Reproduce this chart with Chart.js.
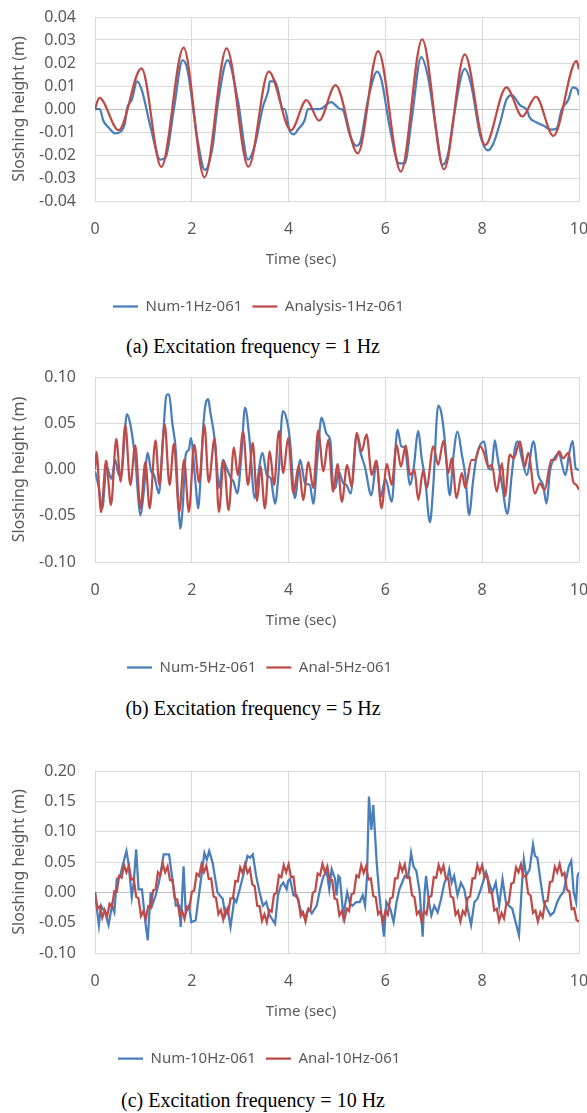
<!DOCTYPE html>
<html>
<head>
<meta charset="utf-8">
<script src="https://cdn.jsdelivr.net/npm/chart.js@4.4.0/dist/chart.umd.min.js"></script>
<style>
  body { margin: 0; background: #fff; width: 587px; height: 1113px; position: relative; overflow: hidden; }
  canvas { position: absolute; left: 0; }
  .cap { position: absolute; left: 0; width: 506px; height: 24px; line-height: 24px; text-align: center;
         font-family: 'Liberation Serif', 'Times New Roman', serif; font-size: 20px; color: #000; }
</style>
</head>
<body>
<canvas id="c1" width="587" height="324" style="top:0px"></canvas>
<div class="cap" style="top:334px">(a) Excitation frequency = 1 Hz</div>
<canvas id="c2" width="587" height="325" style="top:360px"></canvas>
<div class="cap" style="top:696px">(b) Excitation frequency = 5 Hz</div>
<canvas id="c3" width="587" height="322" style="top:754px"></canvas>
<div class="cap" style="top:1088px">(c) Excitation frequency = 10 Hz</div>

<script>
// ---- data (time in s, height in m) ----

// (a) 1 Hz
const c1NumT = [0, 0.1, 0.17, 0.28, 0.42, 0.52, 0.62, 0.66, 0.76, 0.87,
  0.97, 1.15, 1.35, 1.46, 1.63, 1.81, 1.91, 2.12, 2.27, 2.43,
  2.53, 2.74, 2.95, 3.16, 3.30, 3.47, 3.58, 3.61, 3.72, 3.89,
  3.92, 4.03, 4.12, 4.19, 4.33, 4.40, 4.64, 4.88, 5.06, 5.12,
  5.26, 5.40, 5.47, 5.64, 5.83, 5.92, 6.09, 6.28, 6.40, 6.54,
  6.74, 6.88, 7.06, 7.18, 7.30, 7.40, 7.64, 7.78, 7.95, 8.12,
  8.23, 8.37, 8.50, 8.61, 8.78, 8.92, 8.99, 9.09, 9.26, 9.43,
  9.54, 9.64, 9.78, 9.87, 9.97, 10];
const c1NumV = [0, 0, -0.005, -0.008, -0.0106, -0.010, -0.006, 0, 0.004, 0.012,
  0.008, -0.008, -0.022, -0.021, 0, 0.0213, 0.017, -0.0135, -0.0265, -0.0164,
  0.001, 0.0213, 0.004, -0.022, -0.016, 0.001, 0.008, 0.012, 0.012, 0,
  0, -0.0099, -0.011, -0.009, -0.005, 0, 0, 0.003, 0, -0.0004,
  -0.011, -0.016, -0.015, 0.004, 0.0163, 0.0125, -0.008, -0.0236, -0.0236, -0.005,
  0.0226, 0.014, -0.0106, -0.0243, -0.019, -0.005, 0.0174, 0.0097, -0.0106, -0.018,
  -0.015, -0.006, 0.004, 0.006, 0.0017, -0.0004, -0.004, -0.0055, -0.0072, -0.009,
  -0.0084, -0.0004, 0.004, 0.0094, 0.0083, 0.006];
const c1AnalT = [0, 0.09, 0.49, 0.96, 1.37, 1.83, 2.26, 2.72, 3.17, 3.59,
  4.05, 4.37, 4.63, 4.97, 5.43, 5.85, 6.32, 6.76, 7.21, 7.64,
  8.06, 8.50, 8.83, 9.11, 9.47, 9.95, 10];
const c1AnalV = [0, 0.0048, -0.0092, 0.0177, -0.0252, 0.0267, -0.0297, 0.0264, -0.0251, 0.0163,
  -0.0093, 0.0039, -0.0051, 0.0104, -0.0193, 0.0252, -0.0272, 0.0303, -0.0262, 0.0238,
  -0.0157, 0.0094, -0.0033, 0.0054, -0.0117, 0.0209, 0.0172];

// (b) 5 Hz
const c2NumT = [0, 0.07, 0.15, 0.24, 0.30, 0.34, 0.42, 0.49, 0.55, 0.66,
  0.73, 0.83, 0.94, 1.00, 1.09, 1.16, 1.22, 1.32, 1.40, 1.48,
  1.53, 1.60, 1.67, 1.72, 1.76, 1.81, 1.875, 1.94, 1.98, 2.08,
  2.13, 2.18, 2.24, 2.29, 2.34, 2.38, 2.47, 2.57, 2.64, 2.70,
  2.81, 2.86, 2.94, 3.02, 3.10, 3.19, 3.30, 3.36, 3.46, 3.55,
  3.63, 3.72, 3.79, 3.88, 3.97, 4.03, 4.13, 4.24, 4.34, 4.44,
  4.51, 4.60, 4.68, 4.79, 4.86, 4.92, 4.97, 5.03, 5.13, 5.20,
  5.28, 5.41, 5.48, 5.58, 5.71, 5.82, 5.90, 6.00, 6.13, 6.25,
  6.33, 6.40, 6.51, 6.58, 6.68, 6.75, 6.82, 6.92, 6.99, 7.09,
  7.16, 7.23, 7.33, 7.40, 7.49, 7.58, 7.65, 7.73, 7.81, 7.89,
  8.04, 8.13, 8.19, 8.26, 8.31, 8.41, 8.52, 8.61, 8.68, 8.73,
  8.82, 8.92, 9.06, 9.16, 9.26, 9.33, 9.40, 9.51, 9.58, 9.72,
  9.79, 9.87, 9.93, 10];
const c2NumV = [-0.002, -0.017, -0.042, 0.003, -0.006, -0.01, 0.0105, -0.006, -0.003, 0.06,
  0.049, 0.012, -0.0495, -0.028, 0.018, -0.002, -0.006, -0.026, 0.03, 0.081,
  0.081, 0.049, 0.02, -0.035, -0.064, -0.042, 0.016, 0.0215, 0.034, -0.017,
  -0.042, -0.01, 0.049, 0.072, 0.076, 0.063, 0.034, -0.02, 0.0105, 0.004,
  -0.0095, -0.013, -0.026, 0.012, 0.067, 0.034, -0.031, -0.01, 0.018, -0.006,
  -0.0095, -0.037, -0.006, 0.063, 0.052, 0.0305, -0.031, 0.0105, -0.015, -0.0167,
  -0.037, 0.015, 0.056, 0.038, 0.032, -0.017, -0.02, -0.002, -0.015, -0.017,
  -0.026, 0.038, 0.0196, 0.002, -0.028, 0.0087, -0.03, -0.01, -0.035, 0.043,
  0.025, 0.024, -0.0167, 0.0, 0.0415, 0.012, -0.0095, -0.057, -0.017, 0.069,
  0.06, 0.0305, -0.028, 0.012, 0.041, 0.016, -0.006, -0.049, -0.013, 0.016,
  0.0305, 0.0015, 0.0, 0.0316, 0.016, -0.0167, -0.048, -0.006, 0.024, 0.0305,
  0.012, -0.006, 0.0305, -0.006, -0.017, -0.037, -0.002, 0.014, 0.017, -0.006,
  0.015, 0.031, 0.0015, -0.0004];
const c2AnalT = [0, 0.03, 0.125, 0.23, 0.33, 0.44, 0.53, 0.625, 0.73, 0.83,
  0.94, 1.04, 1.13, 1.25, 1.33, 1.44, 1.54, 1.63, 1.74, 1.84,
  1.94, 2.05, 2.15, 2.26, 2.35, 2.47, 2.56, 2.66, 2.76, 2.87,
  2.95, 3.06, 3.16, 3.26, 3.35, 3.42, 3.51, 3.61, 3.70, 3.80,
  3.89, 3.99, 4.10, 4.21, 4.30, 4.41, 4.51, 4.61, 4.72, 4.82,
  4.92, 5.01, 5.10, 5.21, 5.30, 5.41, 5.51, 5.61, 5.72, 5.81,
  5.92, 6.03, 6.13, 6.23, 6.32, 6.42, 6.51, 6.60, 6.68, 6.78,
  6.85, 6.99, 7.09, 7.20, 7.30, 7.37, 7.47, 7.58, 7.65, 7.78,
  7.85, 7.96, 8.03, 8.13, 8.20, 8.30, 8.41, 8.47, 8.57, 8.65,
  8.78, 8.88, 8.95, 9.09, 9.19, 9.29, 9.43, 9.50, 9.59, 9.67,
  9.78, 9.88, 9.95, 10];
const c2AnalV = [0, 0.019, -0.046, 0.0095, -0.0385, 0.033, -0.013, 0.048, -0.0167, 0.026,
  -0.042, 0.008, -0.042, 0.0316, -0.0167, 0.0487, -0.0167, 0.0276, -0.046, 0.0105,
  -0.046, 0.027, -0.0138, 0.048, -0.0138, 0.0335, -0.046, 0.0095, -0.044, 0.024,
  -0.006, 0.041, -0.0167, 0.0287, -0.034, 0.003, -0.042, 0.0196, -0.0167, 0.0415,
  -0.004, 0.034, -0.026, 0.0044, -0.033, 0.008, -0.020, 0.042, -0.002, 0.032,
  -0.024, 0.006, -0.035, 0.005, -0.0185, 0.0396, 0.0196, 0.038, -0.006, 0.0095,
  -0.042, 0.006, -0.0167, 0.027, 0.003, 0.026, -0.006, -0.0004, -0.033, -0.001,
  -0.020, 0.025, 0.005, 0.031, -0.004, 0.012, -0.031, -0.004, -0.020, 0.0105,
  0.0105, 0.025, 0.019, 0.003, 0.005, -0.024, 0.007, -0.029, 0.016, 0.012,
  0.0305, 0.003, 0.018, -0.026, -0.015, -0.022, 0.0105, 0.0105, 0.0196, 0.012,
  0.018, -0.013, -0.017, -0.022];

// (c) 10 Hz
const c3NumT = [0, 0.08, 0.125, 0.21, 0.28, 0.35, 0.40, 0.45, 0.52, 0.56,
  0.65, 0.69, 0.76, 0.80, 0.85, 0.90, 0.97, 1.04, 1.09, 1.15,
  1.18, 1.25, 1.32, 1.42, 1.53, 1.60, 1.67, 1.74, 1.77, 1.83,
  1.875, 1.94, 1.99, 2.08, 2.19, 2.26, 2.31, 2.36, 2.43, 2.53,
  2.64, 2.69, 2.74, 2.80, 2.88, 2.92, 2.99, 3.06, 3.15, 3.20,
  3.26, 3.33, 3.40, 3.47, 3.54, 3.61, 3.72, 3.78, 3.84, 3.89,
  3.96, 3.99, 4.03, 4.10, 4.17, 4.24, 4.34, 4.41, 4.48, 4.58,
  4.65, 4.72, 4.79, 4.84, 4.89, 4.96, 4.99, 5.03, 5.06, 5.13,
  5.21, 5.27, 5.32, 5.40, 5.47, 5.53, 5.58, 5.62, 5.66, 5.71,
  5.75, 5.78, 5.82, 5.87, 5.92, 5.97, 6.02, 6.10, 6.17, 6.23,
  6.29, 6.40, 6.47, 6.53, 6.58, 6.64, 6.71, 6.77, 6.81, 6.84,
  6.90, 6.95, 7.01, 7.08, 7.15, 7.22, 7.29, 7.32, 7.37, 7.42,
  7.49, 7.56, 7.63, 7.70, 7.77, 7.84, 7.90, 7.97, 8.08, 8.14,
  8.21, 8.28, 8.35, 8.42, 8.49, 8.55, 8.62, 8.69, 8.76, 8.82,
  8.86, 8.91, 8.98, 9.05, 9.09, 9.14, 9.21, 9.27, 9.34, 9.41,
  9.48, 9.55, 9.62, 9.68, 9.72, 9.79, 9.84, 9.89, 9.94, 9.97,
  10];
const c3NumV = [0, -0.054, -0.022, -0.033, -0.054, -0.022, -0.033, 0.022, 0.027, 0.041,
  0.068, 0.049, -0.008, 0.016, 0.071, 0.005, 0.005, -0.049, -0.079, 0,
  -0.022, -0.006, 0.016, 0.0625, 0.0625, 0.022, -0.022, -0.022, -0.057, 0.043,
  -0.033, -0.022, -0.049, -0.046, 0.022, 0.065, 0.054, 0.068, 0.049, 0,
  -0.011, -0.038, -0.027, -0.057, -0.011, -0.016, 0.005, 0.027, 0.06, 0.057,
  0.0625, 0.027, 0, -0.022, -0.016, -0.038, -0.052, -0.005, 0.011, 0.016,
  0.005, 0.019, 0.022, -0.005, -0.005, -0.027, -0.043, -0.027, -0.035, -0.022,
  0.005, 0.027, 0.033, 0.005, 0.038, 0.022, -0.005, 0.027, 0.024, -0.038,
  0, -0.019, -0.022, -0.016, -0.016, -0.005, -0.022, 0.027, 0.158, 0.103,
  0.144, 0.103, 0.049, 0, -0.038, -0.073, -0.016, -0.027, -0.049, -0.016,
  0.005, 0.027, 0.024, 0.065, 0.043, 0.035, 0, -0.073, 0, 0.027,
  -0.016, -0.038, -0.022, -0.033, -0.011, 0.016, 0.027, 0.038, 0.016, 0.027,
  -0.005, 0.016, 0.005, -0.027, -0.054, -0.016, -0.011, 0.005, 0.033, 0.016,
  0, 0.016, -0.022, 0.022, -0.016, -0.022, -0.027, -0.049, -0.071, 0.011,
  0.054, 0.027, 0.038, 0.079, 0.06, 0.057, 0.016, -0.016, -0.027, -0.038,
  -0.033, -0.016, -0.005, 0, 0.016, 0.043, 0.052, 0, -0.016, 0.027,
  0.033];
// analytical 10 Hz trace, one value every 0.05 s from 0 to 10 s
const c3AnalStep = 0.05;
const c3AnalV = [
  0, -0.027, -0.023, -0.042, -0.029, -0.040, -0.019, -0.024, 0.002, 0.001,
  0.027, 0.024, 0.045, 0.033, 0.044, 0.021, 0.023, -0.007, -0.010, -0.039,
  -0.031, -0.044, -0.023, -0.025, 0.003, 0.005, 0.033, 0.028, 0.047, 0.033,
  0.043, 0.020, 0.020, -0.010, -0.012, -0.038, -0.031, -0.044, -0.024, -0.027,
  0.001, 0.003, 0.031, 0.027, 0.046, 0.033, 0.044, 0.022, 0.023, -0.007,
  -0.009, -0.036, -0.029, -0.045, -0.028, -0.035, -0.010, -0.010, 0.019, 0.018,
  0.041, 0.032, 0.047, 0.032, 0.039, 0.013, 0.010, -0.022, -0.023, -0.047,
  -0.036, -0.049, -0.029, -0.032, -0.003, -0.001, 0.028, 0.025, 0.045, 0.033,
  0.046, 0.025, 0.026, -0.007, -0.011, -0.039, -0.033, -0.048, -0.028, -0.030,
  -0.001, 0.002, 0.031, 0.028, 0.047, 0.033, 0.043, 0.020, 0.020, -0.010,
  -0.012, -0.038, -0.031, -0.046, -0.027, -0.031, -0.003, -0.001, 0.028, 0.025,
  0.045, 0.032, 0.043, 0.021, 0.023, -0.006, -0.008, -0.036, -0.031, -0.048,
  -0.031, -0.037, -0.010, -0.008, 0.023, 0.023, 0.046, 0.035, 0.046, 0.024,
  0.025, -0.005, -0.008, -0.036, -0.031, -0.048, -0.031, -0.036, -0.008, -0.006,
  0.025, 0.024, 0.045, 0.033, 0.044, 0.022, 0.023, -0.007, -0.009, -0.037,
  -0.031, -0.048, -0.031, -0.037, -0.009, -0.007, 0.023, 0.023, 0.045, 0.033,
  0.045, 0.025, 0.028, 0.000, -0.001, -0.030, -0.027, -0.047, -0.034, -0.043,
  -0.018, -0.017, 0.014, 0.016, 0.041, 0.033, 0.046, 0.026, 0.028, -0.002,
  -0.005, -0.034, -0.030, -0.048, -0.033, -0.041, -0.015, -0.014, 0.017, 0.018,
  0.042, 0.033, 0.047, 0.028, 0.032, 0.004, 0.002, -0.028, -0.026, -0.046,
  -0.048];

const timeTicks = [0, 2, 4, 6, 8, 10];

// ---- styling ----
const BLUE = '#4A7EBB';
const RED = '#BE4B48';
const GRID = '#D9D9D9';
const ZERO = '#BFBFBF';
const TEXT = '#595959';

Chart.defaults.font.family = "'Noto Sans', sans-serif";
Chart.defaults.color = TEXT;

function zip(ts, vs) {
  if (ts.length !== vs.length) console.error('length mismatch', ts.length, vs.length);
  return ts.map((t, i) => ({ x: t, y: vs[i] }));
}
function sampled(step, vs) {
  return vs.map((v, i) => ({ x: +(i * step).toFixed(3), y: v }));
}

// moves the legend row and the x-axis title to where they sit in the figure
const placeText = {
  id: 'placeText',
  afterUpdate(chart, args, opts) {
    const lg = chart.legend;
    if (lg && lg.legendHitBoxes && lg.legendHitBoxes.length) {
      const dx = opts.legendStartX - lg.legendHitBoxes[0].left;
      lg.left += dx;
      lg.right += dx;
    }
    const sx = chart.scales.x;
    if (!sx._origDrawTitle) {
      sx._origDrawTitle = sx.drawTitle;
      sx.drawTitle = function () {
        const d = opts.xTitleCenter - (this.left + this.right) / 2;
        this.left += d; this.right += d;
        this._origDrawTitle();
        this.left -= d; this.right -= d;
      };
    }
  }
};

function legendLabels(chart) {
  const items = Chart.defaults.plugins.legend.labels.generateLabels(chart);
  items.forEach(it => {
    const ds = chart.data.datasets[it.datasetIndex];
    it.strokeStyle = ds.borderColor;
    it.fillStyle = ds.borderColor;
    it.lineWidth = 2.25;
    it.pointStyle = 'line';
  });
  return items.sort((a, b) => a.datasetIndex - b.datasetIndex);
}

function makeChart(id, o) {
  return new Chart(document.getElementById(id), {
    type: 'line',
    data: {
      datasets: [
        { label: o.numLabel, data: o.num, borderColor: BLUE, backgroundColor: BLUE, order: 1,
          cubicInterpolationMode: o.smooth ? 'monotone' : 'default', tension: 0 },
        { label: o.analLabel, data: o.anal, borderColor: RED, backgroundColor: RED, order: 0,
          cubicInterpolationMode: o.smooth ? 'monotone' : 'default', tension: 0 }
      ]
    },
    options: {
      responsive: false,
      animation: false,
      devicePixelRatio: 1,
      layout: { autoPadding: false, padding: { top: 17, right: 8, bottom: 0, left: 0 } },
      elements: { point: { radius: 0 }, line: { borderWidth: 2.25, fill: false } },
      scales: {
        x: {
          type: 'linear', min: 0, max: 10,
          afterBuildTicks: s => { s.ticks = timeTicks.map(v => ({ value: v })); },
          ticks: { padding: 19, font: { size: 16 }, maxRotation: 0, color: TEXT },
          grid: { color: GRID, drawTicks: false },
          border: { color: GRID },
          title: { display: true, text: 'Time (sec)', color: TEXT, font: { size: 15 }, padding: { top: 0, bottom: 20 } },
          afterFit: s => { s.height = 88; s.paddingLeft = 0; s.paddingRight = 0; }
        },
        y: {
          min: o.yMin, max: o.yMax,
          afterBuildTicks: s => { s.ticks = o.yTicks.map(v => ({ value: v })); },
          ticks: { padding: 19, font: { size: 16 }, color: TEXT, callback: v => v.toFixed(2) },
          grid: { color: c => Math.abs(c.tick.value) < 1e-9 ? ZERO : GRID, drawTicks: false },
          border: { color: GRID },
          title: { display: true, text: 'Sloshing height (m)', color: TEXT, font: { size: 16 }, padding: { top: 10, bottom: 0 } },
          afterFit: s => { s.width = 95; s.paddingTop = 0; s.paddingBottom = 0; }
        }
      },
      plugins: {
        legend: {
          position: 'bottom',
          labels: {
            usePointStyle: true, pointStyle: 'line', pointStyleWidth: 25,
            font: { size: 15 }, color: TEXT, padding: 10,
            generateLabels: legendLabels
          }
        },
        tooltip: { enabled: false },
        placeText: { legendStartX: o.legendStartX, xTitleCenter: 301 }
      }
    },
    plugins: [placeText]
  });
}

makeChart('c1', {
  num: zip(c1NumT, c1NumV), anal: zip(c1AnalT, c1AnalV),
  numLabel: 'Num-1Hz-061', analLabel: 'Analysis-1Hz-061',
  yMin: -0.04, yMax: 0.04, yTicks: [-0.04, -0.03, -0.02, -0.01, 0, 0.01, 0.02, 0.03, 0.04],
  smooth: true, legendStartX: 113
});
makeChart('c2', {
  num: zip(c2NumT, c2NumV), anal: zip(c2AnalT, c2AnalV),
  numLabel: 'Num-5Hz-061', analLabel: 'Anal-5Hz-061',
  yMin: -0.1, yMax: 0.1, yTicks: [-0.1, -0.05, 0, 0.05, 0.1],
  smooth: true, legendStartX: 127
});
makeChart('c3', {
  num: zip(c3NumT, c3NumV), anal: sampled(c3AnalStep, c3AnalV),
  numLabel: 'Num-10Hz-061', analLabel: 'Anal-10Hz-061',
  yMin: -0.1, yMax: 0.2, yTicks: [-0.1, -0.05, 0, 0.05, 0.1, 0.15, 0.2],
  smooth: false, legendStartX: 118
});
</script>
</body>
</html>
